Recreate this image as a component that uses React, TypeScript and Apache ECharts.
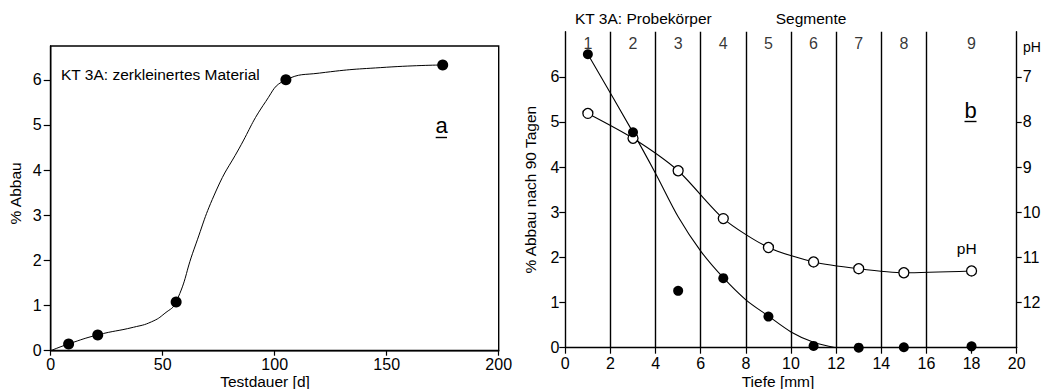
import React, { useEffect, useRef } from "react";
import * as echarts from "echarts";

// ---- Chart a: Testdauer vs % Abbau ----
const testDays = [8, 21, 56, 105, 175];
const testAbbau = [0.15, 0.35, 1.08, 6.0, 6.33];
const curveDays = [0, 8, 21, 37, 45, 51, 56, 64, 74, 84, 96, 105, 120, 150, 175];
const curveAbbau = [0, 0.15, 0.35, 0.52, 0.64, 0.83, 1.08, 2.25, 3.56, 4.47, 5.52, 6.0, 6.15, 6.28, 6.33];
const leftXTicks = [0, 50, 100, 150, 200];
const leftYTicks = [0, 1, 2, 3, 4, 5, 6];

// ---- Chart b: Tiefe vs % Abbau nach 90 Tagen and pH ----
const depth = [1, 3, 5, 7, 9, 11, 13, 15, 18];
const abbau90 = [6.5, 4.77, 1.26, 1.54, 0.69, 0.04, 0.0, 0.01, 0.03];
const phValues = [7.81, 8.36, 9.08, 10.14, 10.78, 11.1, 11.25, 11.34, 11.3];
const abbauCurveDepth = [1, 3, 4, 5, 6, 7, 8, 9, 10, 11, 12];
const abbauCurveValues = [6.5, 4.77, 3.86, 2.9, 2.14, 1.55, 1.06, 0.7, 0.35, 0.12, 0];
const segmentBounds = [2, 4, 6, 8, 10, 12, 14, 16];
const segmentCenters = [1, 3, 5, 7, 9, 11, 13, 15, 18];
const segmentNames = ["1", "2", "3", "4", "5", "6", "7", "8", "9"];
const rightYTicks = [0, 1, 2, 3, 4, 5, 6];
const phTicks = [7, 8, 9, 10, 11, 12];

const FONT = "'Liberation Sans', Arial, sans-serif";
const INK = "#000";

export default function App() {
  const ref = useRef<HTMLDivElement>(null);
  useEffect(() => {
    if (!ref.current) return;
    const chart = echarts.init(ref.current, null, { renderer: "svg" });
    const axisLine = { show: true, lineStyle: { color: INK, width: 1.4 } };
    const tick = { show: true, length: 6, lineStyle: { color: INK, width: 1.2 } };
    const lbl = { color: INK, fontSize: 16, fontFamily: FONT };
    const nameStyle = { color: INK, fontSize: 15.5, fontFamily: FONT };
    chart.setOption({
      animation: false,
      backgroundColor: "#fff",
      textStyle: { fontFamily: FONT, color: INK },
      grid: [
        { left: 50.7, top: 46, width: 448, height: 304.7, show: true, borderColor: INK, borderWidth: 1.4, backgroundColor: "transparent", containLabel: false, outerBoundsMode: "none" },
        { left: 565.3, top: 31.7, width: 451.4, height: 316, containLabel: false, outerBoundsMode: "none" },
      ],
      xAxis: [
        {
          gridIndex: 0, type: "value", min: 0, max: 200, interval: 50,
          axisLine, axisTick: { ...tick, length: 5, customValues: leftXTicks },
          axisLabel: { ...lbl, margin: 6, customValues: leftXTicks },
          splitLine: { show: false },
        },
        {
          gridIndex: 1, type: "value", min: 0, max: 20, interval: 2,
          axisLine, axisTick: tick,
          axisLabel: { ...lbl, margin: 8 },
          splitLine: { show: false },
        },
      ],
      yAxis: [
        {
          gridIndex: 0, type: "value", min: 0, max: 6.75,
          axisLine, axisTick: { ...tick, length: 7, customValues: leftYTicks },
          axisLabel: { ...lbl, margin: 9, customValues: leftYTicks },
          splitLine: { show: false },
          name: "% Abbau", nameLocation: "middle", nameGap: 27, nameRotate: 90,
          nameTextStyle: { ...nameStyle, padding: [0, 0, 0, 10] },
        },
        {
          gridIndex: 1, type: "value", min: 0, max: 7,
          axisLine, axisTick: { ...tick, customValues: rightYTicks },
          axisLabel: { ...lbl, margin: 6, customValues: rightYTicks },
          splitLine: { show: false },
          name: "% Abbau nach 90 Tagen", nameLocation: "middle", nameGap: 27, nameRotate: 90,
          nameTextStyle: nameStyle,
        },
        {
          gridIndex: 1, type: "value", min: 6, max: 13, inverse: true, position: "right",
          axisLine, axisTick: { ...tick, length: 5, customValues: phTicks },
          axisLabel: { ...lbl, margin: 6, customValues: phTicks },
          splitLine: { show: false },
        },
      ],
      series: [
        {
          type: "line", xAxisIndex: 0, yAxisIndex: 0, smooth: 0.5, showSymbol: false,
          data: curveDays.map((d, i) => [d, curveAbbau[i]]),
          lineStyle: { color: INK, width: 1 }, z: 3,
        },
        {
          type: "scatter", xAxisIndex: 0, yAxisIndex: 0, symbolSize: 11,
          data: testDays.map((d, i) => [d, testAbbau[i]]),
          itemStyle: { color: INK, opacity: 1 }, z: 4,
        },
        {
          type: "line", xAxisIndex: 1, yAxisIndex: 1, smooth: 0.3, showSymbol: false,
          data: abbauCurveDepth.map((d, i) => [d, abbauCurveValues[i]]),
          lineStyle: { color: INK, width: 1.1 }, z: 3,
        },
        {
          type: "scatter", xAxisIndex: 1, yAxisIndex: 1, symbolSize: 10,
          data: depth.map((d, i) => [d, abbau90[i]]),
          itemStyle: { color: INK, opacity: 1 }, z: 5,
          markLine: {
            silent: true, symbol: ["none", "none"], label: { show: false },
            lineStyle: { color: INK, type: "solid", width: 1.4 },
            data: segmentBounds.map((b) => ({ xAxis: b })),
          },
        },
        {
          type: "line", xAxisIndex: 1, yAxisIndex: 2, smooth: 0.25,
          symbol: "circle", symbolSize: 10,
          data: depth.map((d, i) => [d, phValues[i]]),
          lineStyle: { color: INK, width: 1.1 },
          itemStyle: { color: "#fff", borderColor: INK, borderWidth: 1.3 }, z: 4,
        },
        {
          type: "scatter", xAxisIndex: 1, yAxisIndex: 1, symbolSize: 0.1,
          data: segmentCenters.map((c) => [c, 6.74]),
          itemStyle: { color: "transparent" },
          label: {
            show: true, position: "inside", color: INK, fontSize: 16, fontFamily: FONT,
            formatter: (p: any) => segmentNames[p.dataIndex],
          },
          z: 6,
        },
      ],
      graphic: [
        { type: "text", x: 265, y: 381.5, style: { text: "Testdauer [d]", fill: INK, font: `15.5px ${FONT}`, align: "center", verticalAlign: "middle" } },
        { type: "text", x: 778, y: 381.5, style: { text: "Tiefe [mm]", fill: INK, font: `15.5px ${FONT}`, align: "center", verticalAlign: "middle" } },
        { type: "text", x: 61, y: 74, style: { text: "KT 3A: zerkleinertes Material", fill: INK, font: `15.5px ${FONT}`, verticalAlign: "middle" } },
        { type: "text", x: 441.5, y: 125, style: { text: "a", fill: INK, font: `22px ${FONT}`, align: "center", verticalAlign: "middle" } },
        { type: "line", shape: { x1: 435.7, y1: 137.5, x2: 447, y2: 137.5 }, style: { stroke: INK, lineWidth: 1.4 } },
        { type: "text", x: 970.5, y: 110, style: { text: "b", fill: INK, font: `22px ${FONT}`, align: "center", verticalAlign: "middle" } },
        { type: "line", shape: { x1: 964.5, y1: 121.5, x2: 976.5, y2: 121.5 }, style: { stroke: INK, lineWidth: 1.4 } },
        { type: "text", x: 575, y: 18, style: { text: "KT 3A: Probekörper", fill: INK, font: `15.5px ${FONT}`, verticalAlign: "middle" } },
        { type: "text", x: 811, y: 18, style: { text: "Segmente", fill: INK, font: `15.5px ${FONT}`, align: "center", verticalAlign: "middle" } },
        { type: "text", x: 966.7, y: 248.5, style: { text: "pH", fill: INK, font: `15.5px ${FONT}`, align: "center", verticalAlign: "middle" } },
        { type: "text", x: 1023, y: 47, style: { text: "pH", fill: INK, font: `14px ${FONT}`, verticalAlign: "middle" } },
      ],
    });
    return () => chart.dispose();
  }, []);
  return <div ref={ref} style={{ position: "fixed", left: 0, top: 0, width: 1042, height: 389 }} />;
}
